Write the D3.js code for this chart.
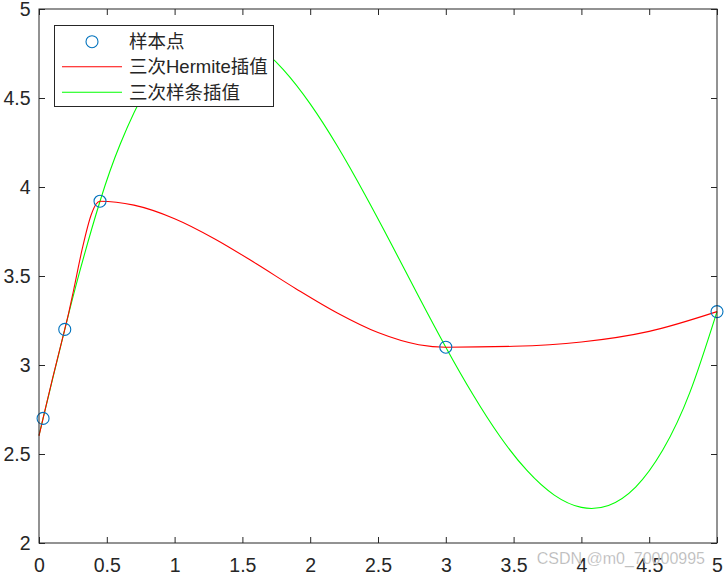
<!DOCTYPE html>
<html><head><meta charset="utf-8">
<script src="https://cdn.jsdelivr.net/npm/d3@7/dist/d3.min.js"></script>
<style>
html,body{margin:0;padding:0;background:#fff;}
svg text{font-family:"Liberation Sans",Arial,sans-serif;}
</style></head>
<body><svg id="c" width="726" height="576"></svg>
<script>
// sample points
const sampleX = [0.03, 0.19, 0.45, 3, 5];
const sampleY = [2.7, 3.2, 3.92, 3.1, 3.3];
// cubic Hermite curve
const hermiteX = [0, 0.03, 0.1, 0.19, 0.22, 0.255, 0.32, 0.385, 0.42, 0.45, 0.7, 1.0, 1.3, 1.6, 1.9, 2.2, 2.5, 2.8, 3.0, 3.5, 4.0, 4.5, 5.0];
const hermiteY = [2.602, 2.7, 2.925, 3.2, 3.296, 3.420, 3.656, 3.844, 3.903, 3.92, 3.898, 3.822, 3.707, 3.570, 3.426, 3.292, 3.182, 3.114, 3.1, 3.105, 3.129, 3.189, 3.3];
// cubic spline curve
const splineX = [0, 0.03, 0.1, 0.19, 0.3, 0.45, 0.6, 0.8, 1.0, 1.2, 1.4, 1.6, 1.8, 2.0, 2.2, 2.4, 2.6, 2.8, 3.0, 3.2, 3.4, 3.6, 3.8, 4.0, 4.2, 4.4, 4.6, 4.8, 5.0];
const splineY = [2.605, 2.7, 2.921, 3.2, 3.524, 3.92, 4.243, 4.563, 4.766, 4.865, 4.873, 4.800, 4.661, 4.467, 4.230, 3.962, 3.677, 3.385, 3.1, 2.834, 2.598, 2.406, 2.269, 2.200, 2.211, 2.314, 2.522, 2.846, 3.3];
const xTicks = [0, 0.5, 1, 1.5, 2, 2.5, 3, 3.5, 4, 4.5, 5];
const yTicks = [2, 2.5, 3, 3.5, 4, 4.5, 5];
const legendLabels = ["样本点", "三次Hermite插值", "三次样条插值"];

const L = 39, R = 717, T = 9, B = 543;
const axisColor = "#262626";
const svg = d3.select("#c");
const x = d3.scaleLinear().domain([0, 5]).range([L, R]);
const y = d3.scaleLinear().domain([2, 5]).range([B, T]);

// curves
const g = svg.append("g");
g.append("path")
  .datum(d3.zip(splineX, splineY))
  .attr("fill", "none").attr("stroke", "#00ff00").attr("stroke-width", 1.1)
  .attr("d", d3.line().x(d => x(d[0])).y(d => y(d[1])).curve(d3.curveNatural));
g.append("path")
  .datum(d3.zip(hermiteX, hermiteY))
  .attr("fill", "none").attr("stroke", "#ff0000").attr("stroke-width", 1.1)
  .attr("d", d3.line().x(d => x(d[0])).y(d => y(d[1])).curve(d3.curveMonotoneX));
g.selectAll("circle.s").data(d3.zip(sampleX, sampleY)).join("circle")
  .attr("class", "s")
  .attr("cx", d => x(d[0])).attr("cy", d => y(d[1])).attr("r", 6)
  .attr("fill", "none").attr("stroke", "#0072bd").attr("stroke-width", 1.1);

// axes (MATLAB style, inward ticks, box)
const tl = 6;
const fs = "19.5px";
const axB = svg.append("g").attr("transform", `translate(0,${B})`)
  .call(d3.axisBottom(x).tickValues(xTicks).tickSize(-tl).tickPadding(15).tickFormat(d3.format("")));
const axT = svg.append("g").attr("transform", `translate(0,${T})`)
  .call(d3.axisTop(x).tickValues(xTicks).tickSize(-tl).tickFormat(""));
const axL = svg.append("g").attr("transform", `translate(${L},0)`)
  .call(d3.axisLeft(y).tickValues(yTicks).tickSize(-tl).tickPadding(8.5).tickFormat(d3.format("")));
const axR = svg.append("g").attr("transform", `translate(${R},0)`)
  .call(d3.axisRight(y).tickValues(yTicks).tickSize(-tl).tickFormat(""));
[axB, axT, axL, axR].forEach(a => {
  a.select(".domain").remove();
  a.selectAll("line").attr("stroke", axisColor);
  a.selectAll("text").attr("fill", axisColor).style("font-size", fs)
    .style("font-family", "'Liberation Sans', Arial, sans-serif");
});
svg.append("rect").attr("x", L).attr("y", T).attr("width", R - L).attr("height", B - T)
  .attr("fill", "none").attr("stroke", axisColor).attr("stroke-width", 1);

// legend
const lg = svg.append("g");
lg.append("rect").attr("x", 54.5).attr("y", 25.5).attr("width", 219).attr("height", 81)
  .attr("fill", "#fff").attr("stroke", axisColor).attr("stroke-width", 1);
const rows = [41.7, 66.7, 92.3];
lg.append("circle").attr("cx", 92).attr("cy", rows[0]).attr("r", 6)
  .attr("fill", "none").attr("stroke", "#0072bd").attr("stroke-width", 1.1);
lg.append("line").attr("x1", 62).attr("x2", 122).attr("y1", rows[1]).attr("y2", rows[1])
  .attr("stroke", "#ff0000").attr("stroke-width", 1.1);
lg.append("line").attr("x1", 62).attr("x2", 122).attr("y1", rows[2]).attr("y2", rows[2])
  .attr("stroke", "#00ff00").attr("stroke-width", 1.1);
lg.selectAll("text.l").data(legendLabels).join("text")
  .attr("class", "l")
  .attr("x", 129).attr("y", (d, i) => rows[i]).attr("dy", "0.36em")
  .attr("fill", "#262626")
  .style("font-family", "'Liberation Sans', 'Noto Sans CJK SC', sans-serif")
  .style("font-size", "18.5px")
  .text(d => d);

// watermark
svg.append("text").attr("x", 705).attr("y", 563.5).attr("text-anchor", "end")
  .attr("fill", "#a8a8a8").attr("fill-opacity", 0.9)
  .attr("stroke", "#ffffff").attr("stroke-width", 0.5).attr("stroke-opacity", 0.6)
  .style("font-family", "'Liberation Sans', Arial, sans-serif").style("font-size", "16px")
  .text("CSDN @m0_70000995");
</script></body></html>
